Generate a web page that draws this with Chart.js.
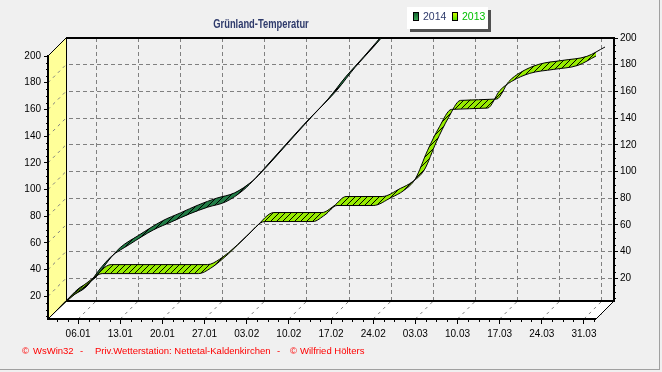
<!DOCTYPE html>
<html>
<head>
<meta charset="utf-8">
<script src="https://cdn.jsdelivr.net/npm/chart.js@4.4.0/dist/chart.umd.min.js"></script>
<style>
    html, body { margin: 0; padding: 0; background: #f0f0f0; }
</style>
</head>
<body>
<canvas id="chart" width="662" height="372"></canvas>
<script>
// Zeitachse: Tage ab 01.01. (Tag 0)
const tickDays = [5, 12, 19, 26, 33, 40, 47, 54, 61, 68, 75, 82, 89];
const tickLabels = ['06.01', '13.01', '20.01', '27.01', '03.02', '10.02', '17.02',
                    '24.02', '03.03', '10.03', '17.03', '24.03', '31.03'];
const valueTicks = [20, 40, 60, 80, 100, 120, 140, 160, 180, 200];
const seriesNames = ['2014', '2013'];

// Grünland-Temperatursumme 2014
const days2014 = [0, 2, 5, 7, 9, 12, 16, 19, 22, 25, 28, 31, 33, 36, 41, 45, 48, 51, 55];
const vals2014 = [3, 12, 21, 33, 43, 52, 63, 69, 75, 80, 84, 93, 102, 117, 142, 161, 178, 193, 214];

// Grünland-Temperatursumme 2013
const days2013 = [0, 3, 6, 9, 25, 27, 30, 33, 36, 44, 46, 48, 54, 57, 59, 61, 63, 65, 67, 73, 75, 77, 80, 84, 88, 91];
const vals2013 = [3, 16, 27, 37, 37, 41, 52, 65, 76, 76, 81, 88, 88, 94, 99, 108, 129, 147, 160, 161, 174, 181, 187, 190, 193, 200];

// 3D-Kasten: Zeichenfläche und Tiefe in Pixel
const AREA = { left: 48, top: 38, right: 614, bottom: 319 };
const DEPTH = 18;
const X_MIN = 0, X_MAX = 91, Y_MIN = 3, Y_MAX = 200;
const KX = (AREA.right - AREA.left - DEPTH) / (X_MAX - X_MIN);
const KY = (AREA.bottom - AREA.top - DEPTH) / (Y_MAX - Y_MIN);

const GRID = '#808080';
const FONT = { family: 'Arial', size: 10 };

// Achse für eine Tiefe d (0 = vorne, DEPTH = Rückwand)
function depthAxis(axis, d, extra) {
    let min, max;
    if (axis === 'x') {
        min = X_MIN - d / KX;
        max = min + (AREA.right - AREA.left) / KX;
    } else {
        min = Y_MIN - d / KY;
        max = min + (AREA.bottom - AREA.top) / KY;
    }
    return Object.assign({ type: 'linear', min: min, max: max, display: false }, extra || {});
}

function points(days, vals) {
    return days.map((d, i) => ({ x: d, y: vals[i] }));
}

function hatchPattern() {
    const c = document.createElement('canvas');
    c.width = 6; c.height = 6;
    const g = c.getContext('2d');
    g.strokeStyle = '#000';
    g.lineWidth = 1;
    g.beginPath();
    g.moveTo(-1, 7); g.lineTo(7, -1);
    g.moveTo(-1, 1); g.lineTo(1, -1);
    g.moveTo(5, 7); g.lineTo(7, 5);
    g.stroke();
    return g.createPattern(c, 'repeat');
}
const hatch = hatchPattern();

// Band = Vorderkante + Hinterkante + Schraffur
function ribbon(days, vals, front, back, color, order) {
    const data = points(days, vals);
    const line = {
        data: data, borderColor: '#000', borderWidth: 1, pointRadius: 0,
        cubicInterpolationMode: 'monotone'
    };
    return [
        Object.assign({}, line, { xAxisID: 'x' + front, yAxisID: 'y' + front, fill: false, order: order }),
        Object.assign({}, line, { xAxisID: 'x' + back, yAxisID: 'y' + back, fill: '-1',
                                  backgroundColor: color, order: order + 2 }),
        Object.assign({}, line, { xAxisID: 'x' + front, yAxisID: 'y' + front, fill: '-1',
                                  borderWidth: 0, borderColor: 'rgba(0,0,0,0)',
                                  backgroundColor: hatch, order: order + 1 })
    ];
}

function poly(ctx, pts) {
    ctx.beginPath();
    pts.forEach((p, i) => i ? ctx.lineTo(p[0], p[1]) : ctx.moveTo(p[0], p[1]));
    ctx.closePath();
}

function seg(ctx, x1, y1, x2, y2) {
    ctx.beginPath();
    ctx.moveTo(x1, y1);
    ctx.lineTo(x2, y2);
    ctx.stroke();
}

// Wände, Boden und Rahmen
const frame3d = {
    id: 'frame3d',
    beforeDatasetsDraw(chart) {
        const ctx = chart.ctx;
        const L = chart.chartArea.left, T = chart.chartArea.top;
        const R = chart.chartArea.right, B = chart.chartArea.bottom;
        const xF = chart.scales.x0, yF = chart.scales.y0, yB = chart.scales.y18;
        const d = DEPTH;
        ctx.save();

        ctx.fillStyle = '#f0f0f0';
        poly(ctx, [[L, T - 1], [L + d + 1, T - 1], [L, T + d + 1]]); ctx.fill();
        poly(ctx, [[R - d + 0.5, B + 0.5], [R + 1, B + 0.5], [R + 1, B - d]]); ctx.fill();

        ctx.fillStyle = '#ffff99';
        poly(ctx, [[L, T + d], [L + d, T], [L + d, B - d], [L, B]]); ctx.fill();
        ctx.fillStyle = '#ffffff';
        poly(ctx, [[L, B], [L + d, B - d], [R, B - d], [R - d, B]]); ctx.fill();

        // gestrichelte Gitterlinien auf Wand und Boden
        ctx.strokeStyle = GRID;
        ctx.lineWidth = 1;
        ctx.setLineDash([3, 4]);
        valueTicks.forEach(v => {
            const y = yF.getPixelForValue(v);
            seg(ctx, L, y, L + d, y - d);
        });
        tickDays.forEach(t => {
            const x = xF.getPixelForValue(t);
            seg(ctx, x, B, x + d, B - d);
        });
        ctx.setLineDash([]);

        // Rahmen
        ctx.strokeStyle = '#000';
        ctx.lineWidth = 1;
        seg(ctx, L + d + 0.5, T, L + d + 0.5, B - d);
        seg(ctx, L, T + d, L + d, T);
        seg(ctx, L, B, L + d, B - d);
        seg(ctx, R - d, B, R, B - d);
        ctx.lineWidth = 2;
        seg(ctx, L + d, T, R, T);
        seg(ctx, L + d, B - d, R, B - d);
        seg(ctx, R, T - 1, R, B - d + 1);
        seg(ctx, L, T + d - 1, L, B + 1);
        seg(ctx, L - 1, B, R - d, B);

        // Zwischenstriche
        ctx.lineWidth = 1;
        for (let v = 5; v < Y_MAX; v += 5) {
            if (v % 20 === 0) continue;
            const yb = Math.round(yB.getPixelForValue(v)) + 0.5;
            const yf = Math.round(yF.getPixelForValue(v)) + 0.5;
            seg(ctx, R, yb, R + 2, yb);
            seg(ctx, L - 2, yf, L, yf);
        }
        for (let t = tickDays[0] - 1.75 * 2; t <= X_MAX; t += 1.75) {
            if (t < X_MIN || tickDays.indexOf(t) >= 0) continue;
            const x = Math.round(xF.getPixelForValue(t)) + 0.5;
            seg(ctx, x, B, x, B + 3);
        }
        ctx.restore();
    }
};

// Titel, Legende, Fußzeile
const texts = {
    id: 'texts',
    afterDraw(chart) {
        const ctx = chart.ctx;
        ctx.save();

        ctx.font = 'bold 13px Arial';
        ctx.fillStyle = '#2e3a6b';
        ctx.textAlign = 'center';
        ctx.textBaseline = 'middle';
        ctx.translate(261, 24);
        ctx.scale(0.72, 1);
        ctx.fillText('Grünland-Temperatur', 0, 0);
        ctx.setTransform(1, 0, 0, 1, 0, 0);

        // Legende
        ctx.fillStyle = '#505050';
        ctx.fillRect(410, 10, 81, 22);
        ctx.fillStyle = '#ffffff';
        ctx.fillRect(407, 7, 81, 22);
        const swatches = [['#0b5a26', '#3fae5c', '#2e3a6b'], ['#ddff00', '#44dd00', '#00c000']];
        const sx = [413, 452];
        ctx.font = '10.5px Arial';
        ctx.textAlign = 'left';
        seriesNames.forEach((name, i) => {
            const g = ctx.createLinearGradient(0, 12, 0, 21);
            g.addColorStop(0, swatches[i][0]);
            g.addColorStop(1, swatches[i][1]);
            ctx.fillStyle = g;
            ctx.fillRect(sx[i], 12, 6, 9);
            ctx.strokeStyle = '#000';
            ctx.lineWidth = 1;
            ctx.strokeRect(sx[i] + 0.5, 12.5, 5, 8);
            ctx.fillStyle = swatches[i][2];
            ctx.fillText(name, sx[i] + 10, 17.5);
        });

        // Fußzeile
        ctx.fillStyle = '#ff0000';
        ctx.font = '9.5px Arial';
        [['©', 22], ['WsWin32', 33], ['-', 80], ['Priv.Wetterstation: Nettetal-Kaldenkirchen', 95],
         ['-', 277], ['©', 290], ['Wilfried Hölters', 300]].forEach(p => ctx.fillText(p[0], p[1], 351));

        // Rand
        ctx.strokeStyle = '#a0a0a0';
        seg(ctx, 659.5, 0, 659.5, 370);
        seg(ctx, 0, 369.5, 660, 369.5);
        ctx.restore();
    }
};

const setTicks = list => scale => { scale.ticks = list.map(v => ({ value: v })); };

const datasets = []
    .concat(ribbon(days2013, vals2013, 0, 9, '#96ec00', 1))
    .concat(ribbon(days2014, vals2014, 9, 18, '#217c46', 4));
datasets[0].label = seriesNames[1];
datasets[3].label = seriesNames[0];

new Chart(document.getElementById('chart'), {
    type: 'line',
    data: { datasets: datasets },
    options: {
        responsive: false,
        animation: false,
        events: [],
        layout: { padding: { top: AREA.top, left: 0, right: 0, bottom: 0 } },
        plugins: { legend: { display: false }, title: { display: false }, tooltip: { enabled: false } },
        scales: {
            x0: depthAxis('x', 0, {
                display: true, position: 'bottom',
                afterBuildTicks: setTicks(tickDays),
                afterFit: s => { s.height = 372 - AREA.bottom; },
                grid: { drawOnChartArea: false, tickLength: 5, tickColor: '#000' },
                border: { display: false },
                ticks: { font: FONT, color: '#000', padding: 4, autoSkip: false, maxRotation: 0,
                         callback: v => tickLabels[tickDays.indexOf(v)] }
            }),
            y0: depthAxis('y', 0, {
                display: true, position: 'left',
                afterBuildTicks: setTicks(valueTicks),
                afterFit: s => { s.width = AREA.left; },
                grid: { drawOnChartArea: false, tickLength: 4, tickColor: '#000' },
                border: { display: false },
                ticks: { font: FONT, color: '#000', padding: 3 }
            }),
            x9: depthAxis('x', 9),
            y9: depthAxis('y', 9),
            x18: depthAxis('x', DEPTH, {
                display: true, position: 'bottom',
                afterBuildTicks: setTicks(tickDays),
                afterFit: s => { s.height = 0; },
                grid: { color: GRID, drawTicks: false },
                border: { display: false, dash: [4, 3] },
                ticks: { display: false }
            }),
            y18: depthAxis('y', DEPTH, {
                display: true, position: 'right',
                afterBuildTicks: setTicks(valueTicks),
                afterFit: s => { s.width = 662 - AREA.right; },
                grid: { color: GRID, tickLength: 4, tickColor: '#000' },
                border: { display: false, dash: [4, 3] },
                ticks: { font: FONT, color: '#000', padding: 2 }
            })
        }
    },
    plugins: [frame3d, texts]
});
</script>
</body>
</html>
